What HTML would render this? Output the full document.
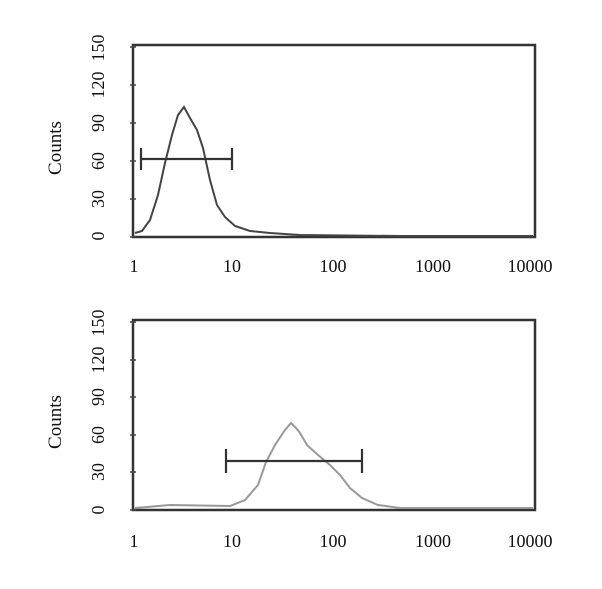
<!DOCTYPE html>
<html><head><style>
html,body{margin:0;padding:0;background:#fff;width:602px;height:589px;overflow:hidden}
text{font-family:"Liberation Serif",serif;font-size:18px;fill:#111}
text.c{font-size:19px}
</style></head><body>
<svg width="602" height="589" xmlns="http://www.w3.org/2000/svg">
<!-- Top panel -->
<rect x="133" y="45" width="402" height="192" fill="none" stroke="#333" stroke-width="2.5"/>
<g stroke="#444" stroke-width="1.5">
<line x1="130" y1="237" x2="136" y2="237"/><line x1="130" y1="199" x2="136" y2="199"/><line x1="130" y1="161" x2="136" y2="161"/><line x1="130" y1="123" x2="136" y2="123"/><line x1="130" y1="85" x2="136" y2="85"/><line x1="130" y1="47" x2="136" y2="47"/>
</g>
<path d="M135,233 L142,231 L150,220 L158,195 L165,163 L172,135 L178,115 L184,107 L190,118 L197,130 L203,148 L210,180 L217,205 L225,217 L235,226 L250,231 L270,233 L300,235 L400,236 L533,236" fill="none" stroke="#444" stroke-width="2"/>
<g stroke="#333" stroke-width="2.2"><line x1="141" y1="159" x2="232" y2="159"/><line x1="141" y1="148" x2="141" y2="170"/><line x1="232" y1="148" x2="232" y2="170"/></g>
<g text-anchor="middle">
<text x="98" y="242" transform="rotate(-90 98 236)">0</text>
<text x="98" y="205" transform="rotate(-90 98 199)">30</text>
<text x="98" y="167" transform="rotate(-90 98 161)">60</text>
<text x="98" y="129" transform="rotate(-90 98 123)">90</text>
<text x="98" y="91" transform="rotate(-90 98 85)">120</text>
<text x="98" y="54" transform="rotate(-90 98 48)">150</text>
<text class="c" x="55" y="154" transform="rotate(-90 55 148)">Counts</text>
<text x="134" y="272">1</text><text x="232" y="272">10</text><text x="333" y="272">100</text><text x="433" y="272">1000</text><text x="530" y="272">10000</text>
</g>
<!-- Bottom panel -->
<rect x="133" y="320" width="402" height="190" fill="none" stroke="#333" stroke-width="2.5"/>
<g stroke="#444" stroke-width="1.5">
<line x1="130" y1="510" x2="136" y2="510"/><line x1="130" y1="472" x2="136" y2="472"/><line x1="130" y1="435" x2="136" y2="435"/><line x1="130" y1="397" x2="136" y2="397"/><line x1="130" y1="360" x2="136" y2="360"/><line x1="130" y1="322" x2="136" y2="322"/>
</g>
<path d="M135,508 L170,505 L230,506 L245,500 L258,485 L266,462 L275,445 L285,430 L291,423 L296,428 L300,433 L307,445 L318,455 L330,465 L340,475 L350,488 L362,498 L378,505 L400,508 L533,508" fill="none" stroke="#999" stroke-width="2"/>
<g stroke="#333" stroke-width="2.2"><line x1="226" y1="461" x2="362" y2="461"/><line x1="226" y1="449" x2="226" y2="473"/><line x1="362" y1="449" x2="362" y2="473"/></g>
<g text-anchor="middle">
<text x="98" y="516" transform="rotate(-90 98 510)">0</text>
<text x="98" y="478" transform="rotate(-90 98 472)">30</text>
<text x="98" y="441" transform="rotate(-90 98 435)">60</text>
<text x="98" y="403" transform="rotate(-90 98 397)">90</text>
<text x="98" y="366" transform="rotate(-90 98 360)">120</text>
<text x="98" y="329" transform="rotate(-90 98 323)">150</text>
<text class="c" x="55" y="428" transform="rotate(-90 55 422)">Counts</text>
<text x="134" y="547">1</text><text x="232" y="547">10</text><text x="333" y="547">100</text><text x="433" y="547">1000</text><text x="530" y="547">10000</text>
</g>
</svg>
</body></html>
